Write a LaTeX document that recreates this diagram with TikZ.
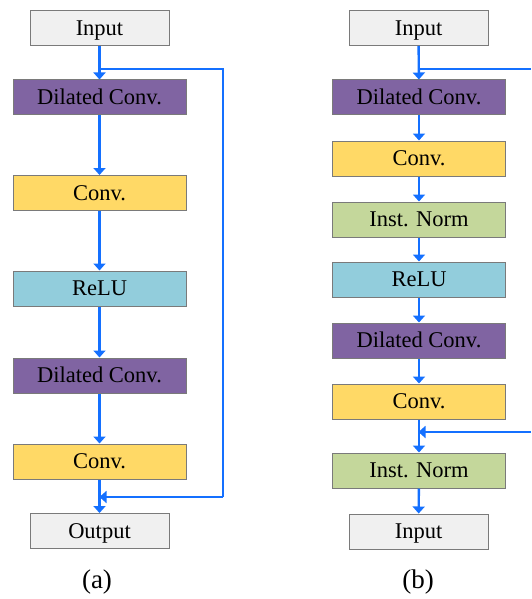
\documentclass[tikz,border=0pt]{standalone}
\usepackage{fontspec}
\setmainfont{Liberation Serif}
\usetikzlibrary{arrows.meta}
\definecolor{lnblue}{HTML}{1470FF}
\definecolor{boxedge}{HTML}{7A7A7A}
\definecolor{gfill}{HTML}{F0F0F0}
\definecolor{pfill}{HTML}{8064A2}
\definecolor{yfill}{HTML}{FFD966}
\definecolor{cfill}{HTML}{92CDDC}
\definecolor{nfill}{HTML}{C4D79B}
\begin{document}
\begin{tikzpicture}[x=1pt,y=-1pt,
  box/.style={draw=boxedge, line width=1pt, minimum height=35pt, inner sep=0pt,
    text height=16.5pt, text depth=2pt,
    font=\fontsize{22.5}{22.5}\selectfont, text=black},
  wide/.style={box, minimum width=173pt},
  narrow/.style={box, minimum width=139pt, fill=gfill},
  conn/.style={draw=lnblue, line width=2.4pt, -{Triangle[width=12pt,length=7pt]}},
  plain/.style={draw=lnblue, line width=2.4pt},
  captxt/.style={font=\fontsize{27}{27}\selectfont}
]
\useasboundingbox (0,0) rectangle (531,599);

% ---------- (a) ----------
\node[narrow] (ain) at (99.5,28) {Input};
\node[wide, fill=pfill] (adc1) at (99.5,97.5) {Dilated Conv.};
\node[wide, fill=yfill] (acv1) at (99.5,193) {Conv.};
\node[wide, fill=cfill] (arelu) at (99.5,288.5) {ReLU};
\node[wide, fill=pfill] (adc2) at (99.5,375.5) {Dilated Conv.};
\node[wide, fill=yfill] (acv2) at (99.5,461.5) {Conv.};
\node[narrow] (aout) at (99.5,531) {Output};
\node[captxt] (acap) at (97,582) {(a)};

\coordinate (aj1) at (99.5,69);
\coordinate (aj2) at (99.5,497);
\coordinate (ar1) at (223,69);
\coordinate (ar2) at (223,497);

\draw[conn] (ain) -- (adc1);
\draw[conn] (adc1) -- (acv1);
\draw[conn] (acv1) -- (arelu);
\draw[conn] (arelu) -- (adc2);
\draw[conn] (adc2) -- (acv2);
\draw[conn] (acv2) -- (aout);
\draw[plain] (aj1) -- (ar1) -- (ar2);
\draw[conn] (ar2) -- (aj2);

% ---------- (b) ----------
\node[narrow] (bin) at (418.5,28) {Input};
\node[wide, fill=pfill] (bdc1) at (419,97.5) {Dilated Conv.};
\node[wide, fill=yfill] (bcv1) at (419,158.5) {Conv.};
\node[wide, fill=nfill] (bin1) at (419,219.5) {Inst. Norm};
\node[wide, fill=cfill] (brelu) at (419,279.5) {ReLU};
\node[wide, fill=pfill] (bdc2) at (419,340.5) {Dilated Conv.};
\node[wide, fill=yfill] (bcv2) at (419,401.5) {Conv.};
\node[wide, fill=nfill] (bin2) at (419,470.5) {Inst. Norm};
\node[narrow] (bout) at (418.5,531.5) {Input};
\node[captxt] (bcap) at (418,582) {(b)};

\coordinate (bj1) at (418.5,69);
\coordinate (bj2) at (418.5,432);
\coordinate (br1) at (531,69);
\coordinate (br2) at (531,432);

\draw[conn] (bin) -- (bdc1);
\draw[conn] (bdc1) -- (bcv1);
\draw[conn] (bcv1) -- (bin1);
\draw[conn] (bin1) -- (brelu);
\draw[conn] (brelu) -- (bdc2);
\draw[conn] (bdc2) -- (bcv2);
\draw[conn] (bcv2) -- (bin2);
\draw[conn] (bin2) -- (bout);
\draw[plain] (bj1) -- (br1);
\draw[conn] (br2) -- (bj2);
\end{tikzpicture}
\end{document}
